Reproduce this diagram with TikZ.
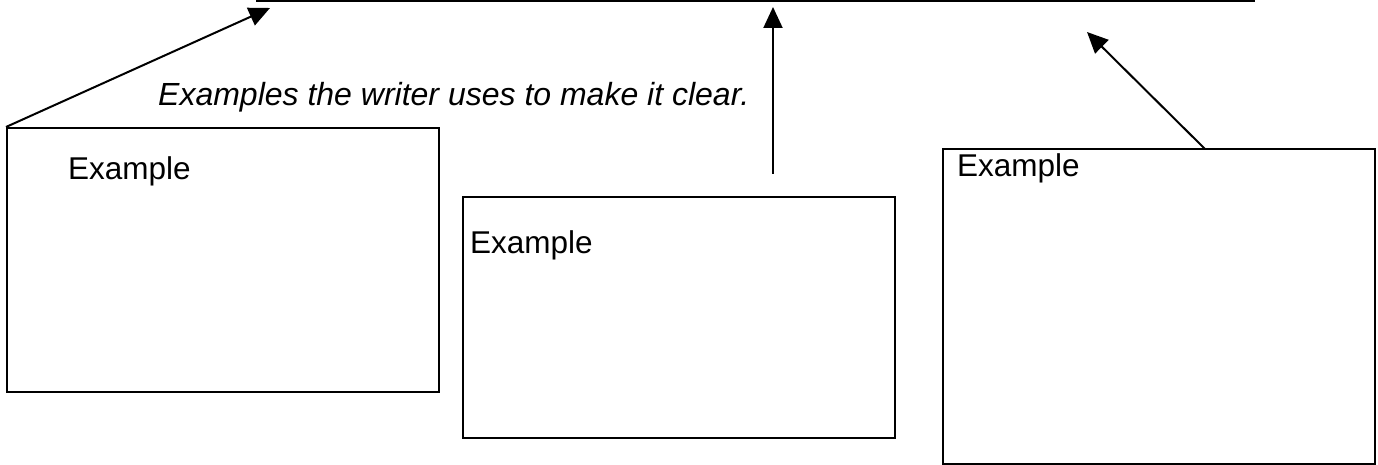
\documentclass[tikz,border=0pt]{standalone}
\usepackage{fontspec}
\setmainfont{Liberation Sans}
\usetikzlibrary{arrows.meta}
\begin{document}
\begin{tikzpicture}[x=1pt,y=-1pt,
  box/.style={draw, line width=2pt, inner sep=0pt, anchor=north west},
  lbl/.style={anchor=base west, inner sep=0pt, font=\fontsize{31.5}{38}\selectfont},
  pointer/.style={line width=2pt, -{Triangle[length=21pt,width=19pt]}}]
\useasboundingbox (0,0) rectangle (1378,465);

% answer line at the top
\coordinate (lineL) at (256,0.8);
\coordinate (lineR) at (1255,0.8);
\draw[line width=1.8pt] (lineL) -- (lineR);

% example boxes
\node[box, minimum width=432pt, minimum height=264pt] (b1) at (6,127) {};
\node[box, minimum width=432pt, minimum height=241pt] (b2) at (462,196) {};
\node[box, minimum width=432pt, minimum height=315pt] (b3) at (942,148) {};

% labels
\node[lbl] (l1) at (68,180) {Example};
\node[lbl] (l2) at (470,253) {Example};
\node[lbl] (l3) at (957,177) {Example};
\node[lbl, font=\fontsize{32}{38}\selectfont\itshape] (cap) at (158,106) {Examples the writer uses to make it clear.};

% pointers up to the line
\coordinate (t1) at (270,8);
\draw[pointer] (b1.north west) -- (t1);
\coordinate (s2) at (773,174);
\coordinate (t2) at (773,7);
\draw[pointer] (s2) -- (t2);
\coordinate (s3) at (1205,149);
\coordinate (t3) at (1087,32);
\draw[pointer] (s3) -- (t3);
\end{tikzpicture}
\end{document}
